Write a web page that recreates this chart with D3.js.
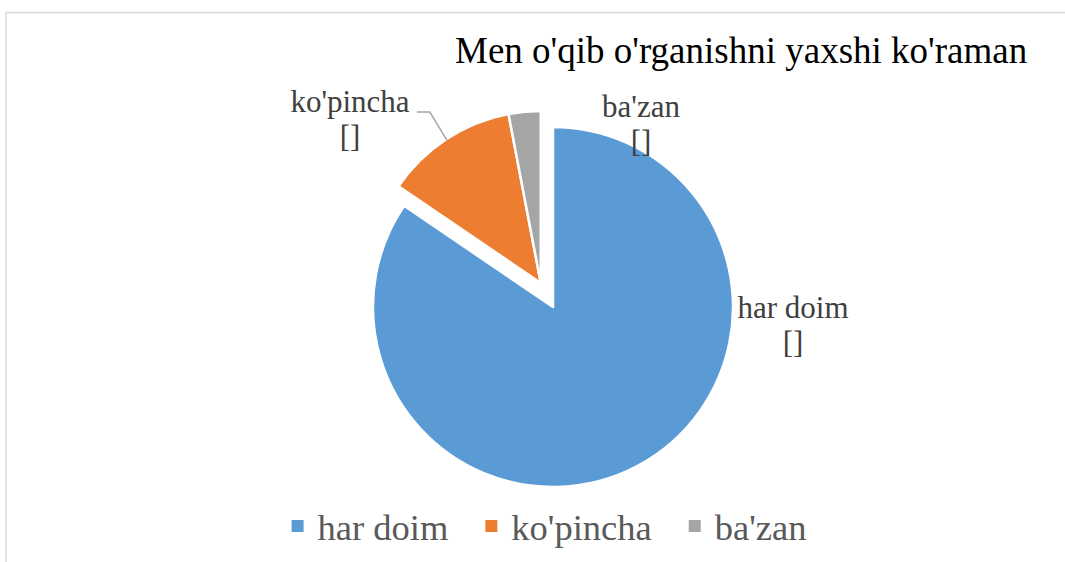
<!DOCTYPE html>
<html>
<head>
<meta charset="utf-8">
<script src="https://cdn.jsdelivr.net/npm/d3@7/dist/d3.min.js"></script>
<style>
  body { margin: 0; background: #fff; }
  svg { display: block; }
  .LabelText { font-family: "Liberation Serif", "Times New Roman", serif; font-size: 31px; fill: #404040; }
  .LegendText { font-family: "Liberation Serif", "Times New Roman", serif; font-size: 36.5px; fill: #595959; }
  .TitleText { font-family: "Liberation Serif", "Times New Roman", serif; font-size: 37px; fill: #000; }
</style>
</head>
<body>
<svg id="SvgContainer"></svg>
<script>
// chart data
var title = "Men o'qib o'rganishni yaxshi ko'raman";
var categories = ["har doim", "ko'pincha", "ba'zan"];
var values = [84.5, 12.5, 3];
var valueLabels = ["[]", "[]", "[]"];
var colors = ["#5b9bd5", "#ed7d31", "#a5a5a5"];

function DrawPie() {
    var width = 1065;
    var height = 562;
    var cx = 553;
    var cy = 307;
    var radius = 180;
    var explodedRadius = 172;

    // exploded slices: distance and direction (degrees clockwise from top)
    var explodeDist = [0, 27, 27];
    var explodeDir = [0, 333, 333];

    // label block offsets from pie centre
    var labelDx = [240, -203, 88];
    var labelDy = [11, -195, -190];
    var lineGap = 35;

    var svgContainer = d3.select("svg")
        .attr("width", width)
        .attr("height", height);

    // chart border
    svgContainer.append("rect")
        .attr("x", 6)
        .attr("y", 12.5)
        .attr("width", 1070)
        .attr("height", 600)
        .attr("fill", "none")
        .attr("stroke", "#d9d9d9")
        .attr("stroke-width", 1.5);

    svgContainer.append("text")
        .attr("class", "TitleText")
        .attr("x", 455)
        .attr("y", 63)
        .text(title);

    var pie = d3.pie().sort(null).value(function (d) { return d; });
    var arcs = pie(values);

    function sliceRadius(i) {
        return explodeDist[i] > 0 ? explodedRadius : radius;
    }

    function offset(i) {
        var a = explodeDir[i] * Math.PI / 180;
        return [Math.sin(a) * explodeDist[i], -Math.cos(a) * explodeDist[i]];
    }

    var sliceGroups = svgContainer.selectAll(".SliceGroup")
        .data(arcs)
        .enter()
        .append("g")
        .attr("class", "SliceGroup")
        .attr("transform", function (d, i) {
            var o = offset(i);
            return "translate(" + (cx + o[0]) + "," + (cy + o[1]) + ")";
        });

    sliceGroups.append("path")
        .attr("d", function (d, i) {
            return d3.arc().innerRadius(0).outerRadius(sliceRadius(i))(d);
        })
        .attr("fill", function (d, i) { return colors[i]; })
        .attr("stroke", "#fff")
        .attr("stroke-width", 2.5)
        .attr("stroke-linejoin", "round");

    // data labels
    var labels = svgContainer.selectAll(".LabelGroup")
        .data(categories)
        .enter()
        .append("g")
        .attr("class", "LabelGroup");

    labels.append("text")
        .attr("class", "LabelText")
        .attr("text-anchor", "middle")
        .attr("x", function (d, i) { return cx + labelDx[i]; })
        .attr("y", function (d, i) { return cy + labelDy[i]; })
        .text(function (d) { return d; });

    labels.append("text")
        .attr("class", "LabelText")
        .attr("text-anchor", "middle")
        .attr("x", function (d, i) { return cx + labelDx[i]; })
        .attr("y", function (d, i) { return cy + labelDy[i] + lineGap; })
        .text(function (d, i) { return valueLabels[i]; });

    // leader line for ko'pincha
    var li = 1;
    var bbox = labels.filter(function (d, i) { return i === li; }).select("text").node().getBBox();
    var o = offset(li);
    var mid = (arcs[li].startAngle + arcs[li].endAngle) / 2;
    var r = sliceRadius(li) - 1;
    var endX = cx + o[0] + Math.sin(mid) * r;
    var endY = cy + o[1] - Math.cos(mid) * r;
    var startX = bbox.x + bbox.width + 7;
    var startY = cy + labelDy[li];
    svgContainer.append("polyline")
        .attr("points", [[startX, startY], [startX + 13, startY], [endX, endY]].join(" "))
        .attr("fill", "none")
        .attr("stroke", "#a6a6a6")
        .attr("stroke-width", 1.5);

    // legend
    var legend = svgContainer.append("g").attr("class", "Legend");
    var items = legend.selectAll(".LegendItem")
        .data(categories)
        .enter()
        .append("g")
        .attr("class", "LegendItem");
    items.append("rect")
        .attr("width", 12)
        .attr("height", 12)
        .attr("y", 520)
        .attr("fill", function (d, i) { return colors[i]; });
    items.append("text")
        .attr("class", "LegendText")
        .attr("y", 540)
        .attr("x", 26)
        .text(function (d) { return d; });

    var xPos = 0;
    var positions = [];
    items.each(function () {
        positions.push(xPos);
        var w = d3.select(this).select("text").node().getComputedTextLength();
        xPos += 26 + w + 37;
    });
    var total = xPos - 37;
    var startLegend = cx - 4 - total / 2;
    items.attr("transform", function (d, i) {
        return "translate(" + (startLegend + positions[i]) + ",0)";
    });
}

DrawPie();
</script>
</body>
</html>
